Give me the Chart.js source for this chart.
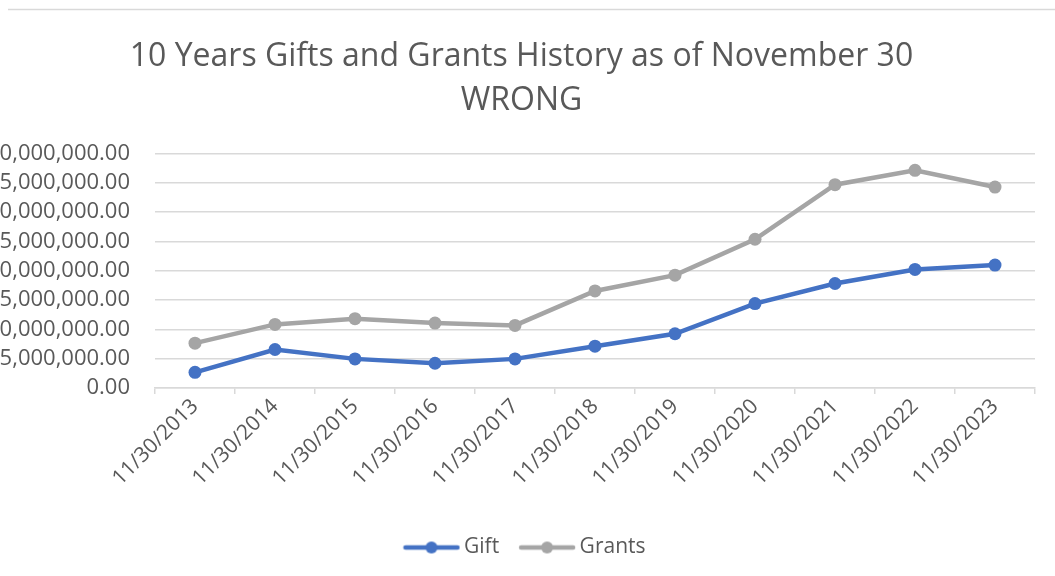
<!DOCTYPE html>
<html>
<head>
<meta charset="utf-8">
<title>10 Years Gifts and Grants History</title>
<script src="https://cdn.jsdelivr.net/npm/chart.js@4.4.1/dist/chart.umd.min.js"></script>
<style>
  html, body { margin: 0; padding: 0; background: #fff; }
  #wrap { position: relative; width: 1055px; height: 576px; }
</style>
</head>
<body>
<div id="wrap"><canvas id="chart" width="1055" height="576"></canvas></div>
<script>
// chart data
var categories = ['11/30/2013', '11/30/2014', '11/30/2015', '11/30/2016', '11/30/2017', '11/30/2018',
                  '11/30/2019', '11/30/2020', '11/30/2021', '11/30/2022', '11/30/2023'];
var giftValues = [2670000, 6570000, 4970000, 4220000, 4970000, 7130000,
                  9260000, 14400000, 17830000, 20230000, 20970000];
var grantValues = [7650000, 10850000, 11830000, 11080000, 10680000, 16560000,
                   19260000, 25380000, 34690000, 37140000, 34290000];
var yMin = 0, yMax = 40000000, yStep = 5000000;

var textColor = '#595959';
var gridColor = '#d9d9d9';
var fontFamily = '"Open Sans", Lato, sans-serif';

/**
 * Legend marker: a short line with a dot on it, like the
 * spreadsheet legend. Built on a small offscreen canvas.
 */
function legendMarker(color){
  var c = document.createElement('canvas');
  c.width = 58; c.height = 14;
  var ctx = c.getContext('2d');
  ctx.strokeStyle = color;
  ctx.lineWidth = 4.5;
  ctx.lineCap = 'round';
  ctx.beginPath();
  ctx.moveTo(3, 7);
  ctx.lineTo(55, 7);
  ctx.stroke();
  ctx.fillStyle = color;
  ctx.beginPath();
  ctx.arc(29, 7, 6, 0, Math.PI * 2);
  ctx.fill();
  return c;
}

// thin border line along the top, as in the original chart frame
var frameLine = {
  id: 'frameLine',
  beforeDraw: function(chart){
    var ctx = chart.ctx;
    ctx.save();
    ctx.fillStyle = '#fff';
    ctx.fillRect(0, 0, chart.width, chart.height);
    ctx.strokeStyle = gridColor;
    ctx.lineWidth = 1.5;
    ctx.beginPath();
    ctx.moveTo(8, 9.5);
    ctx.lineTo(chart.width, 9.5);
    ctx.stroke();
    ctx.restore();
  }
};

// nudge title and legend a little to the right, where the original has them
var boxNudge = {
  id: 'boxNudge',
  afterLayout: function(chart){
    if(chart.titleBlock){
      chart.titleBlock.left += 4;
      chart.titleBlock.right += 4;
    }
    if(chart.legend){
      chart.legend.left += 10;
      chart.legend.right += 10;
    }
  }
};

var seriesStyle = function(label, values, color){
  return {
    label: label,
    data: values,
    borderColor: color,
    backgroundColor: color,
    borderWidth: 4.5,
    pointRadius: 6.5,
    pointHoverRadius: 6.5,
    pointBorderWidth: 0,
    pointStyle: 'circle',
    tension: 0,
    fill: false
  };
};

var markers = [legendMarker('#4472C4'), legendMarker('#A5A5A5')];

new Chart(document.getElementById('chart'), {
  type: 'line',
  data: {
    labels: categories,
    datasets: [
      seriesStyle('Gift', giftValues, '#4472C4'),
      seriesStyle('Grants', grantValues, '#A5A5A5')
    ]
  },
  plugins: [frameLine, boxNudge],
  options: {
    responsive: false,
    animation: false,
    layout: { padding: { left: 0, right: 20, top: 0, bottom: 8 } },
    plugins: {
      title: {
        display: true,
        text: ['10 Years Gifts and Grants History as of November 30', 'WRONG'],
        color: textColor,
        font: { family: fontFamily, size: 32, weight: 'normal', lineHeight: 1.4 },
        padding: { top: 34, bottom: 30 }
      },
      legend: {
        position: 'bottom',
        labels: {
          color: textColor,
          font: { family: fontFamily, size: 21 },
          usePointStyle: true,
          pointStyleWidth: 44,
          padding: 26,
          generateLabels: function(chart){
            return chart.data.datasets.map(function(ds, i){
              return {
                text: ds.label,
                fontColor: textColor,
                pointStyle: markers[i],
                datasetIndex: i,
                lineWidth: 0,
                strokeStyle: 'transparent',
                fillStyle: 'transparent'
              };
            });
          }
        }
      },
      tooltip: { enabled: false }
    },
    scales: {
      x: {
        offset: true,
        grid: {
          display: true,
          drawOnChartArea: false,
          drawTicks: true,
          tickLength: 6,
          color: gridColor,
          lineWidth: 1.5,
          offset: true
        },
        border: { display: true, color: gridColor, width: 1.5 },
        ticks: {
          color: textColor,
          font: { family: fontFamily, size: 21 },
          minRotation: 45,
          maxRotation: 45,
          autoSkip: false,
          padding: 0
        },
        afterFit: function(scale){ scale.height = 123; }
      },
      y: {
        min: yMin,
        max: yMax,
        grid: { color: gridColor, lineWidth: 1.5, drawTicks: false },
        border: { display: false },
        ticks: {
          stepSize: yStep,
          autoSkip: false,
          color: textColor,
          font: { family: fontFamily, size: 22 },
          padding: 25,
          callback: function(v){
            return Number(v).toLocaleString('en-US', { minimumFractionDigits: 2, maximumFractionDigits: 2 });
          }
        },
        // fixed width: the long labels run off the left edge, as in the original
        afterFit: function(scale){ scale.width = 155; }
      }
    }
  }
});
</script>
</body>
</html>
